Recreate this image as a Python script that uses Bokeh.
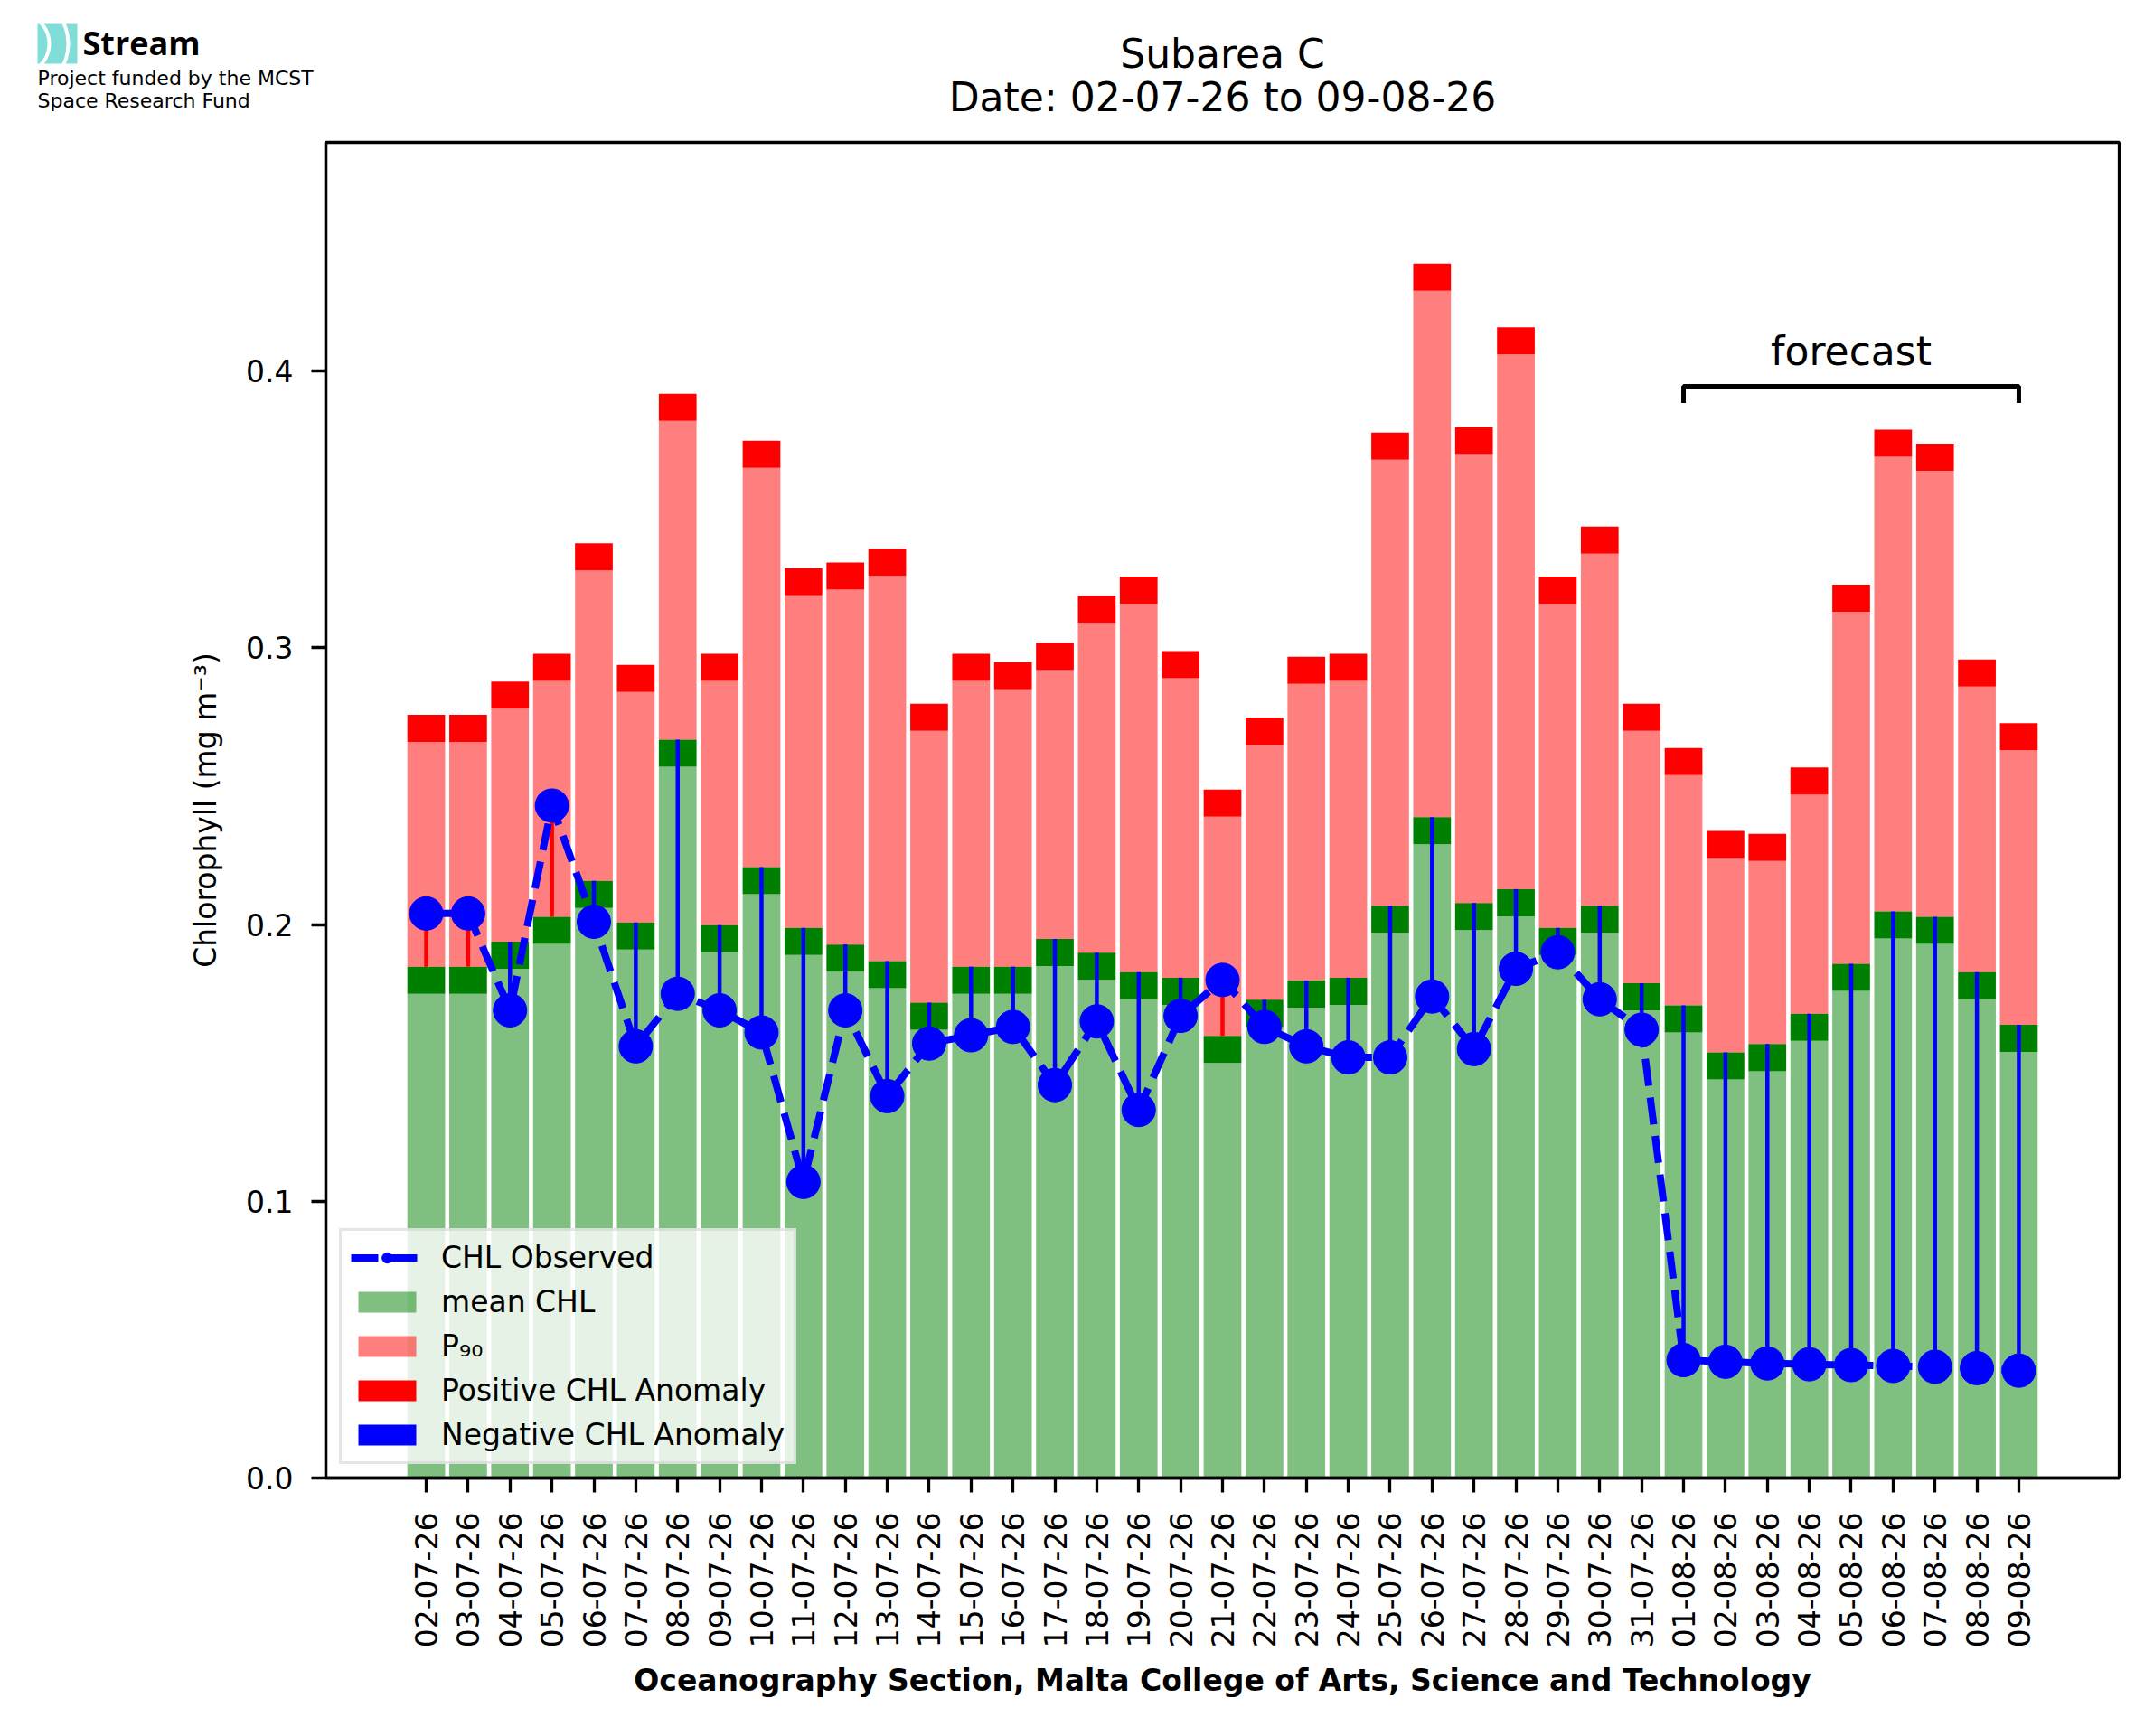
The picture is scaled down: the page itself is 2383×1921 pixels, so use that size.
import math
from bokeh.plotting import figure
from bokeh.layouts import column
from bokeh.models import (ColumnDataSource, Range1d, FixedTicker, PrintfTickFormatter,
                          Legend, LegendItem)
from bokeh.core.properties import value
from bokeh.embed import file_html
from bokeh.resources import INLINE

# daily values, Subarea C
dates = ["02-07-26", "03-07-26", "04-07-26", "05-07-26", "06-07-26", "07-07-26", "08-07-26",
         "09-07-26", "10-07-26", "11-07-26", "12-07-26", "13-07-26", "14-07-26", "15-07-26",
         "16-07-26", "17-07-26", "18-07-26", "19-07-26", "20-07-26", "21-07-26", "22-07-26",
         "23-07-26", "24-07-26", "25-07-26", "26-07-26", "27-07-26", "28-07-26", "29-07-26",
         "30-07-26", "31-07-26", "01-08-26", "02-08-26", "03-08-26", "04-08-26", "05-08-26",
         "06-08-26", "07-08-26", "08-08-26", "09-08-26"]
mean_chl = [0.175, 0.175, 0.184, 0.193, 0.206, 0.191, 0.257, 0.190, 0.211, 0.189,
            0.183, 0.177, 0.162, 0.175, 0.175, 0.185, 0.180, 0.173, 0.171, 0.150,
            0.163, 0.170, 0.171, 0.197, 0.229, 0.198, 0.203, 0.189, 0.197, 0.169,
            0.161, 0.144, 0.147, 0.158, 0.176, 0.195, 0.193, 0.173, 0.154]
p90 = [0.266, 0.266, 0.278, 0.288, 0.328, 0.284, 0.382, 0.288, 0.365, 0.319,
       0.321, 0.326, 0.270, 0.288, 0.285, 0.292, 0.309, 0.316, 0.289, 0.239,
       0.265, 0.287, 0.288, 0.368, 0.429, 0.370, 0.406, 0.316, 0.334, 0.270,
       0.254, 0.224, 0.223, 0.247, 0.313, 0.369, 0.364, 0.286, 0.263]
chl_obs = [0.204, 0.204, 0.169, 0.243, 0.201, 0.156, 0.175, 0.169, 0.161, 0.107,
           0.169, 0.138, 0.157, 0.160, 0.163, 0.142, 0.165, 0.133, 0.167, 0.180,
           0.163, 0.156, 0.152, 0.152, 0.174, 0.155, 0.184, 0.190, 0.173, 0.162,
           0.0426, 0.0420, 0.0414, 0.0411, 0.0408, 0.0405, 0.0402, 0.0397, 0.0388]
forecast_start = "01-08-26"
subarea = "C"

FONT = "DejaVu Sans"
BAND = 0.0098   # thickness of the dark marker bands
W = 0.9
TEAL = "#80ddd8"

WIDTH = 2367
HEAD_H = 150
ML, MR, MT, MB = 360, 23, 7, 270
FRAME_H = 1478

n = len(dates)
xs = list(range(n))
mean_top = [m + BAND for m in mean_chl]
p90_top = [q + BAND for q in p90]
seg_col = ["red" if o > t else "blue" for o, t in zip(chl_obs, mean_top)]

src = ColumnDataSource(dict(x=xs, mean=mean_chl, mean_top=mean_top, p90=p90,
                            p90_top=p90_top, obs=chl_obs, seg_col=seg_col))

# ---- header strip: logo + title (pixel coordinates, y down) ----
head = figure(width=WIDTH, height=HEAD_H, x_range=Range1d(0, WIDTH), y_range=Range1d(HEAD_H, 0),
              output_backend="svg", toolbar_location=None,
              x_axis_location=None, y_axis_location=None,
              min_border=0, outline_line_color=None)
head.frame_align = False
head.xgrid.visible = False
head.ygrid.visible = False

head.quad(left=[41], right=[85], top=[26], bottom=[70], fill_color=TEAL, line_color=None)
head.annular_wedge(x=[20, 20], y=[48, 48], inner_radius=[32, 53], outer_radius=[36, 57],
                   start_angle=-1.2, end_angle=1.2, fill_color="white", line_color=None)
head.text(x=[91], y=[71], text=["Stream"], text_font=value("Open Sans"), text_font_size="36px",
          text_font_style="bold", text_baseline="bottom", text_color="black")
head.text(x=[41, 41], y=[98.5, 123.5], text=["Project funded by the MCST", "Space Research Fund"],
          text_font=value(FONT), text_font_size="22px", text_baseline="bottom", text_color="black")

cx = ML + (WIDTH - ML - MR) / 2
head.text(x=[cx, cx], y=[84.4, 132.8],
          text=["Subarea %s" % subarea, "Date: %s to %s" % (dates[0], dates[-1])],
          text_font=value(FONT), text_font_size="44px", text_align="center",
          text_baseline="bottom", text_color="black")

# ---- main chart ----
pad = 0.05 * (n - 1 + W)
p = figure(width=WIDTH, height=MT + FRAME_H + MB,
           x_range=Range1d(-W / 2 - pad, n - 1 + W / 2 + pad),
           y_range=Range1d(0, 1.1 * max(p90_top)),
           output_backend="svg", toolbar_location=None,
           min_border_left=ML, min_border_right=MR, min_border_top=MT, min_border_bottom=MB)
p.frame_align = False
p.xgrid.visible = False
p.ygrid.visible = False
p.outline_line_color = "black"
p.outline_line_width = 3.3
p.outline_line_alpha = 1

# bars
g = p.vbar(x="x", bottom=0, top="mean", width=W, source=src,
           fill_color="green", fill_alpha=0.5, line_color=None)
p.vbar(x="x", bottom="mean", top="mean_top", width=W, source=src,
       fill_color="green", line_color=None)
r = p.vbar(x="x", bottom="mean_top", top="p90", width=W, source=src,
           fill_color="red", fill_alpha=0.5, line_color=None)
pos = p.vbar(x="x", bottom="p90", top="p90_top", width=W, source=src,
             fill_color="red", line_color=None)
# zero-height proxy, only for the legend swatch
neg = p.vbar(x=[xs[0]], bottom=[0], top=[0], width=W, fill_color="blue", line_color=None)

# anomaly sticks + observed
p.segment(x0="x", y0="mean_top", x1="x", y1="obs", source=src,
          line_color="seg_col", line_width=4.5)
ln = p.line("x", "obs", source=src, line_color="blue", line_width=8, line_dash="30 13")
sc = p.scatter("x", "obs", source=src, size=37, marker="circle",
               fill_color="blue", line_color="blue")

# forecast bracket
fc = dates.index(forecast_start)
last = n - 1
br_y = max(p90_top[fc:]) + 0.0157
p.line([fc, fc, last, last], [br_y - 0.006, br_y, br_y, br_y - 0.006],
       line_color="black", line_width=5)
p.text(x=[(fc + last) / 2], y=[br_y + 0.0045], text=["forecast"],
       text_font=value(FONT), text_font_size="44px",
       text_align="center", text_baseline="bottom", text_color="black")

# axes
for ax in (p.xaxis, p.yaxis):
    ax.axis_line_width = 3.3
    ax.major_tick_line_width = 3.3
    ax.major_tick_out = 16
    ax.major_tick_in = 0
    ax.minor_tick_out = 0
    ax.minor_tick_in = 0
    ax.major_label_text_font = FONT
    ax.major_label_text_font_size = "33px"
    ax.major_label_text_color = "black"
    ax.axis_label_text_font = FONT
    ax.axis_label_text_font_size = "33px"
    ax.axis_label_text_color = "black"

p.xaxis.ticker = FixedTicker(ticks=xs)
p.xaxis.major_label_overrides = {i: d for i, d in zip(xs, dates)}
p.xaxis.major_label_orientation = math.pi / 2
p.xaxis.major_label_standoff = 22
p.xaxis.axis_label = "Oceanography Section, Malta College of Arts, Science and Technology"
p.xaxis.axis_label_text_font_style = "bold"
p.xaxis.axis_label_standoff = 14

p.yaxis.ticker = FixedTicker(ticks=[0.0, 0.1, 0.2, 0.3, 0.4])
p.yaxis.formatter = PrintfTickFormatter(format="%.1f")
p.yaxis.major_label_standoff = 20
p.yaxis.axis_label = "Chlorophyll (mg m⁻³)"
p.yaxis.axis_label_text_font_style = "normal"
p.yaxis.axis_label_standoff = 22

legend = Legend(items=[
    LegendItem(label="CHL Observed", renderers=[ln, sc]),
    LegendItem(label="mean CHL", renderers=[g]),
    LegendItem(label="P₉₀", renderers=[r]),
    LegendItem(label="Positive CHL Anomaly", renderers=[pos]),
    LegendItem(label="Negative CHL Anomaly", renderers=[neg]),
], location=(15, 15), margin=0, padding=10, spacing=10,
    glyph_width=80, glyph_height=29, label_standoff=20,
    label_text_font=FONT, label_text_font_size="33px", label_text_color="black",
    border_line_color="#cccccc", border_line_width=3.3,
    background_fill_color="white", background_fill_alpha=0.8)
p.add_layout(legend)

layout = column(head, p, spacing=0)
open("out.html", "w").write(file_html(layout, INLINE))
